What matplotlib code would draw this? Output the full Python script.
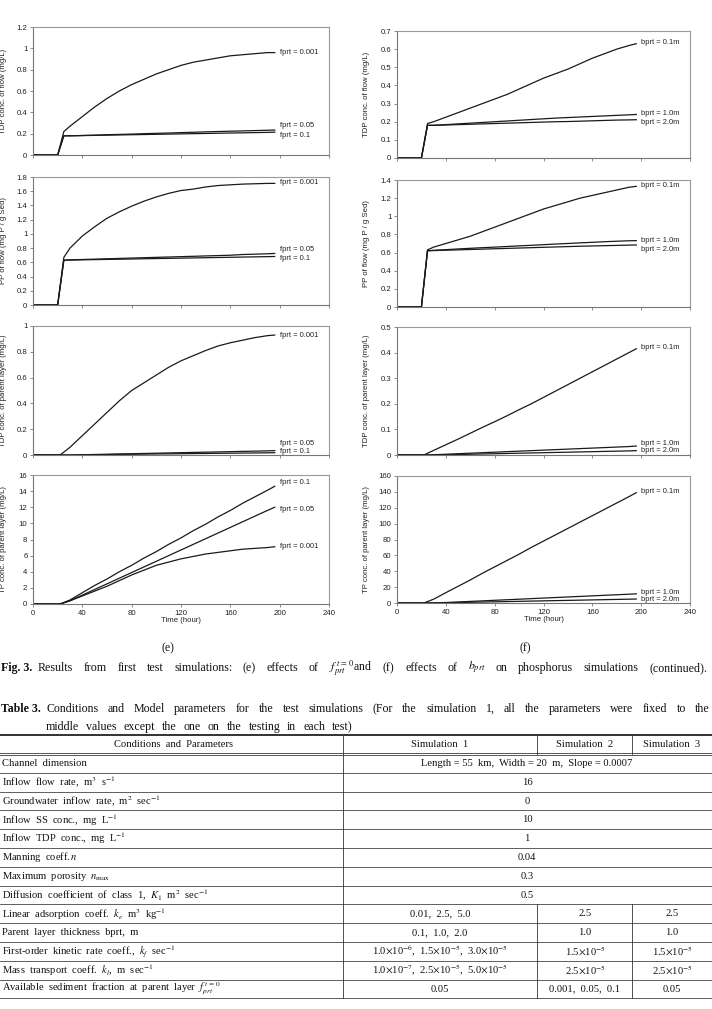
import matplotlib
matplotlib.use("Agg")
import matplotlib.pyplot as plt
from matplotlib.lines import Line2D
from matplotlib.ticker import FuncFormatter, MultipleLocator

plt.rcParams['font.family'] = ['Liberation Sans', 'DejaVu Sans']
plt.rcParams['mathtext.fontset'] = 'stix'

W, H = 712, 1009

# ---- data ----
t_flow = [0, 20, 25, 30, 40, 50, 60, 70, 80, 90, 100, 110, 120, 130, 140, 150, 160, 170, 180, 190, 196]
t_layer = [0, 22, 30, 40, 50, 60, 70, 80, 90, 100, 110, 120, 130, 140, 150, 160, 170, 180, 190, 196]

# (e) effects of fprt
f001_tdp_flow = [0, 0, 0.22, 0.27, 0.36, 0.45, 0.53, 0.60, 0.66, 0.71, 0.76, 0.80, 0.84, 0.87, 0.89, 0.91, 0.93, 0.94, 0.95, 0.96, 0.96]
f05_tdp_flow = [0, 0, 0.18, 0.18, 0.183, 0.186, 0.19, 0.193, 0.196, 0.20, 0.203, 0.206, 0.21, 0.213, 0.217, 0.22, 0.223, 0.226, 0.229, 0.232, 0.234]
f1_tdp_flow = [0, 0, 0.18, 0.18, 0.182, 0.184, 0.186, 0.188, 0.19, 0.192, 0.194, 0.196, 0.198, 0.20, 0.202, 0.204, 0.206, 0.208, 0.21, 0.212, 0.214]

f001_pp = [0, 0, 0.67, 0.80, 0.97, 1.10, 1.22, 1.31, 1.39, 1.46, 1.52, 1.57, 1.61, 1.63, 1.66, 1.68, 1.69, 1.70, 1.705, 1.71, 1.71]
f05_pp = [0, 0, 0.63, 0.635, 0.64, 0.645, 0.65, 0.655, 0.66, 0.665, 0.67, 0.675, 0.68, 0.685, 0.69, 0.695, 0.70, 0.71, 0.715, 0.72, 0.725]
f1_pp = [0, 0, 0.63, 0.632, 0.635, 0.638, 0.641, 0.644, 0.647, 0.65, 0.653, 0.656, 0.659, 0.662, 0.665, 0.668, 0.671, 0.674, 0.677, 0.68, 0.682]

f001_tdp_layer = [0, 0, 0.06, 0.15, 0.24, 0.33, 0.42, 0.50, 0.56, 0.62, 0.68, 0.73, 0.77, 0.81, 0.845, 0.87, 0.89, 0.91, 0.925, 0.93]
f05_tdp_layer = [0, 0, 0, 0.002, 0.004, 0.006, 0.008, 0.010, 0.012, 0.014, 0.016, 0.018, 0.020, 0.022, 0.024, 0.026, 0.028, 0.030, 0.032, 0.034]
f1_tdp_layer = [0, 0, 0, 0.001, 0.002, 0.003, 0.005, 0.006, 0.007, 0.008, 0.009, 0.010, 0.011, 0.012, 0.013, 0.014, 0.015, 0.016, 0.017, 0.018]

f1_tp = [0, 0, 0.5, 1.4, 2.3, 3.1, 4.0, 4.8, 5.7, 6.5, 7.4, 8.2, 9.1, 9.9, 10.8, 11.6, 12.5, 13.3, 14.1, 14.6]
f05_tp = [0, 0, 0.4, 1.1, 1.8, 2.5, 3.2, 3.9, 4.6, 5.3, 6.0, 6.7, 7.4, 8.1, 8.8, 9.5, 10.2, 10.9, 11.6, 12.0]
f001_tp = [0, 0, 0.4, 1.0, 1.6, 2.2, 2.9, 3.6, 4.2, 4.8, 5.2, 5.6, 5.9, 6.2, 6.4, 6.6, 6.8, 6.9, 7.0, 7.1]

# (f) effects of bprt
b01_tdp_flow = [0, 0, 0.19, 0.20, 0.225, 0.25, 0.275, 0.30, 0.325, 0.35, 0.38, 0.41, 0.44, 0.465, 0.49, 0.52, 0.55, 0.575, 0.60, 0.62, 0.63]
b10_tdp_flow = [0, 0, 0.18, 0.18, 0.184, 0.188, 0.192, 0.196, 0.20, 0.204, 0.208, 0.212, 0.216, 0.22, 0.223, 0.226, 0.229, 0.232, 0.235, 0.238, 0.24]
b20_tdp_flow = [0, 0, 0.18, 0.18, 0.182, 0.184, 0.186, 0.188, 0.19, 0.192, 0.194, 0.196, 0.198, 0.20, 0.201, 0.203, 0.205, 0.207, 0.209, 0.21, 0.211]

b01_pp = [0, 0, 0.63, 0.66, 0.70, 0.74, 0.78, 0.83, 0.88, 0.93, 0.98, 1.03, 1.08, 1.12, 1.16, 1.20, 1.23, 1.26, 1.29, 1.32, 1.33]
b10_pp = [0, 0, 0.62, 0.625, 0.632, 0.64, 0.647, 0.654, 0.66, 0.667, 0.674, 0.68, 0.687, 0.694, 0.70, 0.707, 0.713, 0.72, 0.725, 0.73, 0.732]
b20_pp = [0, 0, 0.62, 0.622, 0.626, 0.63, 0.634, 0.638, 0.642, 0.646, 0.65, 0.654, 0.658, 0.662, 0.666, 0.67, 0.673, 0.676, 0.679, 0.682, 0.684]

b01_tdp_layer = [0, 0, 0.018, 0.04, 0.062, 0.085, 0.108, 0.13, 0.153, 0.177, 0.20, 0.225, 0.25, 0.275, 0.30, 0.325, 0.35, 0.375, 0.40, 0.415]
b10_tdp_layer = [0, 0, 0.001, 0.003, 0.005, 0.007, 0.009, 0.011, 0.013, 0.015, 0.017, 0.019, 0.021, 0.023, 0.025, 0.027, 0.029, 0.031, 0.033, 0.035]
b20_tdp_layer = [0, 0, 0, 0.001, 0.002, 0.003, 0.004, 0.005, 0.006, 0.007, 0.008, 0.009, 0.010, 0.011, 0.012, 0.013, 0.014, 0.015, 0.016, 0.017]

b01_tp = [0, 0, 4.8, 13, 21, 29, 37.5, 45.5, 53.5, 61.5, 70, 78, 86, 94, 102, 110, 118, 126, 134, 139]
b10_tp = [0, 0, 0.2, 0.6, 1.3, 2.0, 2.7, 3.4, 4.1, 4.8, 5.5, 6.2, 6.9, 7.6, 8.3, 9.0, 9.7, 10.4, 11.1, 11.5]
b20_tp = [0, 0, 0.1, 0.3, 0.6, 0.9, 1.2, 1.5, 1.8, 2.1, 2.4, 2.7, 3.0, 3.3, 3.6, 3.9, 4.2, 4.5, 4.8, 5.0]

ylabels = ["TDP conc. of flow (mg/L)", "PP of flow (mg P / g Sed)",
           "TDP conc. of parent layer (mg/L)", "TP conc. of parent layer (mg/L)"]
f_names = ["fprt = 0.001", "fprt = 0.05", "fprt = 0.1"]
b_names = ["bprt = 0.1m", "bprt = 1.0m", "bprt = 2.0m"]

# table content
row_labels = [
    "Channel  dimension",
    "Inflow  flow  rate,  m$^3$  s$^{-1}$",
    "Groundwater  inflow  rate,  m$^2$  sec$^{-1}$",
    "Inflow  SS  conc.,  mg  L$^{-1}$",
    "Inflow  TDP  conc.,  mg  L$^{-1}$",
    "Manning  coeff.$\\,n$",
    "Maximum  porosity  $n_{\\mathrm{max}}$",
    "Diffusion  coefficient  of  class  1,  $K_1$  m$^2$  sec$^{-1}$",
    "Linear  adsorption  coeff.  $k_e$  m$^3$  kg$^{-1}$",
    "Parent  layer  thickness  bprt,  m",
    "First-order  kinetic  rate  coeff.,  $k_f$  sec$^{-1}$",
    "Mass  transport  coeff.  $k_l$,  m  sec$^{-1}$",
    "Available  sediment  fraction  at  parent  layer  $f_{prt}^{\\,t\\,=\\,0}$",
]
shared_values = ["Length = 55  km,  Width = 20  m,  Slope = 0.0007", "16", "0", "10", "1", "0.04", "0.3", "0.5"]
sim1_values = ["0.01,  2.5,  5.0", "0.1,  1.0,  2.0",
               "1.0$\\times$10$^{-6}$,  1.5$\\times$10$^{-5}$,  3.0$\\times$10$^{-5}$",
               "1.0$\\times$10$^{-7}$,  2.5$\\times$10$^{-5}$,  5.0$\\times$10$^{-5}$", "0.05"]
sim2_values = ["2.5", "1.0", "1.5$\\times$10$^{-5}$", "2.5$\\times$10$^{-5}$", "0.001,  0.05,  0.1"]
sim3_values = ["2.5", "1.0", "1.5$\\times$10$^{-5}$", "2.5$\\times$10$^{-5}$", "0.05"]

fig = plt.figure(figsize=(W / 100, H / 100), dpi=100)


def fx(x):
    return x / W


def fy(y):
    return 1 - y / H


def add_panel(x0, x1, y0, y1):
    return fig.add_axes([fx(x0), fy(y1), (x1 - x0) / W, (y1 - y0) / H])


def style(ax, ymax, ystep, ylab, bottom):
    ax.set_xlim(0, 240)
    ax.set_ylim(0, ymax)
    ax.xaxis.set_major_locator(MultipleLocator(40))
    ax.yaxis.set_major_locator(MultipleLocator(ystep))
    ax.yaxis.set_major_formatter(FuncFormatter(lambda v, p: f"{round(v, 3):g}"))
    for s in ax.spines.values():
        s.set_color("#9a9a9a")
        s.set_linewidth(0.8)
    ax.spines['left'].set_color("#777777")
    ax.spines['bottom'].set_color("#777777")
    ax.tick_params(direction="out", length=2.5, width=0.6, color="#777777",
                   labelsize=5.6, pad=1.5, labelcolor="#222222")
    if not bottom:
        ax.tick_params(axis="x", labelbottom=False)
    else:
        ax.set_xlabel("Time (hour)", fontsize=5.6, labelpad=0.2, color="#222222")
    ax.set_ylabel(ylab, fontsize=5.6, color="#222222")


def curves(ax, t, series, names, label_y):
    for s in series:
        ax.plot(t, s, color="#1a1a1a", lw=0.9)
    for n, yv in zip(names, label_y):
        ax.text(200, yv, n, fontsize=5.4, va="center", ha="left", color="#222222")


left_x = (33, 329)
right_x = (397, 690)
left_rows = [(27, 155), (177, 305), (326, 455), (475, 604)]
right_rows = [(31, 158), (180, 307), (327, 455), (476, 603)]

# left column (e)
ax = add_panel(*left_x, *left_rows[0])
curves(ax, t_flow, [f001_tdp_flow, f05_tdp_flow, f1_tdp_flow], f_names, [0.96, 0.28, 0.18])
style(ax, 1.2, 0.2, ylabels[0], False)
ax.yaxis.set_label_coords(-0.088, 0.5)

ax = add_panel(*left_x, *left_rows[1])
curves(ax, t_flow, [f001_pp, f05_pp, f1_pp], f_names, [1.72, 0.775, 0.65])
style(ax, 1.8, 0.2, ylabels[1], False)
ax.yaxis.set_label_coords(-0.088, 0.5)

ax = add_panel(*left_x, *left_rows[2])
curves(ax, t_layer, [f001_tdp_layer, f05_tdp_layer, f1_tdp_layer], f_names, [0.93, 0.093, 0.026])
style(ax, 1.0, 0.2, ylabels[2], False)
ax.yaxis.set_label_coords(-0.088, 0.5)

ax = add_panel(*left_x, *left_rows[3])
curves(ax, t_layer, [f1_tp, f05_tp, f001_tp], [f_names[2], f_names[1], f_names[0]], [15.05, 11.7, 7.13])
style(ax, 16, 2, ylabels[3], True)
ax.yaxis.set_label_coords(-0.088, 0.5)

# right column (f)
ax = add_panel(*right_x, *right_rows[0])
curves(ax, t_flow, [b01_tdp_flow, b10_tdp_flow, b20_tdp_flow], b_names, [0.636, 0.244, 0.196])
style(ax, 0.7, 0.1, ylabels[0], False)
ax.yaxis.set_label_coords(-0.092, 0.5)

ax = add_panel(*right_x, *right_rows[1])
curves(ax, t_flow, [b01_pp, b10_pp, b20_pp], b_names, [1.34, 0.73, 0.634])
style(ax, 1.4, 0.2, ylabels[1], False)
ax.yaxis.set_label_coords(-0.092, 0.5)

ax = add_panel(*right_x, *right_rows[2])
curves(ax, t_layer, [b01_tdp_layer, b10_tdp_layer, b20_tdp_layer], b_names, [0.418, 0.046, 0.016])
style(ax, 0.5, 0.1, ylabels[2], False)
ax.yaxis.set_label_coords(-0.092, 0.5)

ax = add_panel(*right_x, *right_rows[3])
curves(ax, t_layer, [b01_tp, b10_tp, b20_tp], b_names, [141, 13.8, 4.2])
style(ax, 160, 20, ylabels[3], True)
ax.yaxis.set_label_coords(-0.092, 0.5)

# ---- captions ----
serif = dict(family=["Liberation Serif", "DejaVu Serif"], color="#111111")
fig.text(fx(168), fy(648), "(e)", fontsize=8.5, ha="center", va="center", **serif)
fig.text(fx(525), fy(648), "(f)", fontsize=8.5, ha="center", va="center", **serif)

renderer = fig.canvas.get_renderer()


def justify(words, x0, x1, y, size):
    ts = [fig.text(0, 0, w, fontsize=size, va="center", ha="left", **serif) for w in words]
    widths = [t.get_window_extent(renderer).width for t in ts]
    gap = (x1 - x0 - sum(widths)) / max(len(words) - 1, 1)
    x = x0
    for t, w in zip(ts, widths):
        t.set_position((fx(x), fy(y)))
        x += w + gap


fig.text(fx(1), fy(668), "Fig. 3.", fontsize=8.6, fontweight="bold", va="center", ha="left", **serif)
justify("Results from first test simulations: (e) effects of $f_{prt}^{\\,t\\,=\\,0}$and (f) effects of $b_{prt}$ on phosphorus simulations (continued).".split(" "),
        38, 707, 668, 8.6)

fig.text(fx(1), fy(709), "Table 3.", fontsize=8.6, fontweight="bold", va="center", ha="left", **serif)
justify("Conditions and Model parameters for the test simulations (For the simulation 1, all the parameters were fixed to the".split(" "),
        46, 710, 709, 8.6)
justify("middle values except the one on the testing in each test)".split(" "), 46, 353, 727, 8.6)

# ---- table ----
top, head_bot, row_h = 735, 754, 18.8
n_rows = len(row_labels)
bottom = head_bot + n_rows * row_h
div1, div2, div3 = 343, 537, 632


def hline(y, lw=0.6, color="#333333", x0=0, x1=W):
    fig.add_artist(Line2D([fx(x0), fx(x1)], [fy(y), fy(y)], lw=lw, color=color, transform=fig.transFigure))


def vline(x, y0, y1, lw=0.6, color="#333333"):
    fig.add_artist(Line2D([fx(x), fx(x)], [fy(y0), fy(y1)], lw=lw, color=color, transform=fig.transFigure))


hline(top, lw=1.3, color="#222222")
hline(head_bot - 1, lw=0.7, color="#555555")
hline(head_bot + 1, lw=0.7, color="#555555")
for i in range(1, n_rows + 1):
    hline(head_bot + i * row_h, lw=0.6, color="#444444")
vline(div1, top, bottom)
vline(div2, top, head_bot)
vline(div3, top, head_bot)
vline(div2, head_bot + 8 * row_h, bottom)
vline(div3, head_bot + 8 * row_h, bottom)

ts = 7.6
hy = (top + head_bot) / 2
fig.text(fx(173), fy(hy), "Conditions  and  Parameters", fontsize=ts, ha="center", va="center", **serif)
fig.text(fx(440), fy(hy), "Simulation  1", fontsize=ts, ha="center", va="center", **serif)
fig.text(fx(585), fy(hy), "Simulation  2", fontsize=ts, ha="center", va="center", **serif)
fig.text(fx(672), fy(hy), "Simulation  3", fontsize=ts, ha="center", va="center", **serif)

for i, lab in enumerate(row_labels):
    yc = head_bot + (i + 0.5) * row_h
    fig.text(fx(2), fy(yc), lab, fontsize=ts, ha="left", va="center", **serif)
    if i < len(shared_values):
        fig.text(fx(527), fy(yc), shared_values[i], fontsize=ts, ha="center", va="center", **serif)
    else:
        k = i - len(shared_values)
        fig.text(fx(440), fy(yc), sim1_values[k], fontsize=ts, ha="center", va="center", **serif)
        fig.text(fx(585), fy(yc), sim2_values[k], fontsize=ts, ha="center", va="center", **serif)
        fig.text(fx(672), fy(yc), sim3_values[k], fontsize=ts, ha="center", va="center", **serif)

fig.savefig("out.png", dpi=100)
